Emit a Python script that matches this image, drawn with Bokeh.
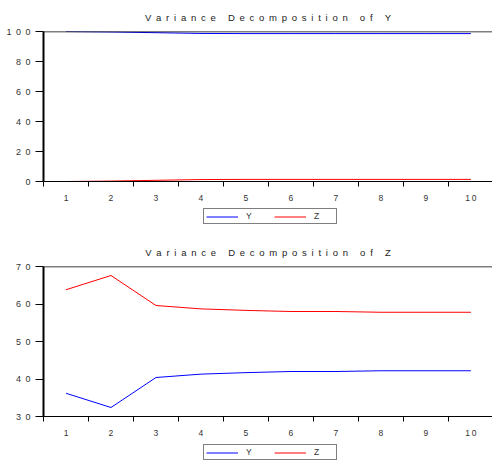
from bokeh.plotting import figure
from bokeh.layouts import column
from bokeh.models import FixedTicker, Legend, LegendItem, Range1d, Span
from bokeh.embed import file_html
from bokeh.resources import INLINE

periods = [1, 2, 3, 4, 5, 6, 7, 8, 9, 10]

# Variance decomposition of Y
top_title = "Variance Decomposition of Y"
top_y = [100.0, 99.7, 99.2, 98.7, 98.6, 98.6, 98.6, 98.6, 98.6, 98.6]
top_z = [0.0, 0.3, 0.8, 1.3, 1.4, 1.4, 1.4, 1.4, 1.4, 1.4]
top_yticks = [0, 20, 40, 60, 80, 100]

# Variance decomposition of Z
bot_title = "Variance Decomposition of Z"
bot_y = [36.2, 32.4, 40.4, 41.3, 41.7, 42.0, 42.0, 42.2, 42.2, 42.2]
bot_z = [63.8, 67.6, 59.6, 58.7, 58.3, 58.0, 58.0, 57.8, 57.8, 57.8]
bot_yticks = [30, 40, 50, 60, 70]

series_names = ["Y", "Z"]
series_colors = ["#0000FF", "#FF0000"]

FONT = "Liberation Sans"
TXT = "#333333"
EN = "\u2002"
THIN = "\u2009"
XR = (0.5, 10.48)


def spaced(s):
    words = s.split(" ")
    return (EN + " " + EN).join(EN.join(w) for w in words)


def make(title, ys, zs, yr, yticks, height, b_top, b_bottom):
    p = figure(width=492, height=height,
               x_range=Range1d(*XR), y_range=Range1d(yr[0], yr[1]),
               output_backend="svg", toolbar_location=None,
               min_border_left=43, min_border_right=0,
               min_border_top=b_top, min_border_bottom=b_bottom,
               title=spaced(title))
    p.title.align = "center"
    p.title.text_font = FONT
    p.title.text_font_size = "9.5px"
    p.title.text_font_style = "normal"
    p.title.text_color = "#222222"
    p.title.standoff = 18
    p.grid.visible = False
    p.outline_line_color = None

    xa = p.xaxis[0]
    xa.ticker = FixedTicker(ticks=periods,
                            minor_ticks=[v - 0.5 for v in periods] + [periods[-1] + 0.5])
    xa.major_tick_line_color = None
    xa.major_tick_out = 0
    xa.major_tick_in = 0
    xa.minor_tick_out = 5
    xa.minor_tick_in = 0
    xa.minor_tick_line_color = "black"
    xa.axis_line_color = "black"
    xa.major_label_standoff = 6
    xa.major_label_text_font = FONT
    xa.major_label_text_font_size = "8.5px"
    xa.major_label_text_color = TXT
    xa.major_label_overrides = {v: THIN.join(str(v)) for v in periods}

    ya = p.yaxis[0]
    ya.ticker = FixedTicker(ticks=yticks)
    ya.major_tick_out = 8
    ya.major_tick_in = 0
    ya.minor_tick_line_color = None
    ya.axis_line_color = "black"
    ya.axis_line_width = 2
    ya.major_tick_line_color = "black"
    ya.major_label_standoff = 5
    ya.major_label_text_font = FONT
    ya.major_label_text_font_size = "9px"
    ya.major_label_text_color = TXT
    ya.major_label_overrides = {v: EN.join(str(v)) for v in yticks}

    p.add_layout(Span(location=yr[1], dimension="width",
                      line_color="black", line_width=1.5))

    for vals, c in zip([ys, zs], series_colors):
        p.line(periods, vals, line_color=c, line_width=1)
    return p


def legend_fig(ys, zs, height, loc):
    # separate strip holding the legend; its lines lie outside its y range
    q = figure(width=492, height=height, x_range=Range1d(*XR),
               y_range=Range1d(1000, 1001),
               x_axis_type=None, y_axis_type=None,
               output_backend="svg", toolbar_location=None,
               min_border=0, min_border_left=0, min_border_right=0,
               min_border_top=0, min_border_bottom=0)
    q.grid.visible = False
    q.outline_line_color = None
    rs = [q.line(periods, vals, line_color=c, line_width=1)
          for vals, c in zip([ys, zs], series_colors)]
    leg = Legend(items=[LegendItem(label=n, renderers=[r]) for n, r in zip(series_names, rs)],
                 orientation="horizontal", location=loc,
                 border_line_color="black", border_line_width=1,
                 padding=2, spacing=8, margin=0,
                 glyph_width=32, glyph_height=9, label_height=9,
                 label_standoff=8, label_width=20,
                 label_text_font=FONT, label_text_font_size="8.5px",
                 label_text_color=TXT)
    q.add_layout(leg)
    return q


p1 = make(top_title, top_y, top_z, (0, 100), top_yticks, 205, 31, 22)
l1 = legend_fig(top_y, top_z, 29, (160, 10))
p2 = make(bot_title, bot_y, bot_z, (30, 70), bot_yticks, 206, 32, 22)
l2 = legend_fig(bot_y, bot_z, 24, (160, 4))

layout = column(p1, l1, p2, l2, spacing=0)
open("out.html", "w").write(file_html(layout, INLINE))
